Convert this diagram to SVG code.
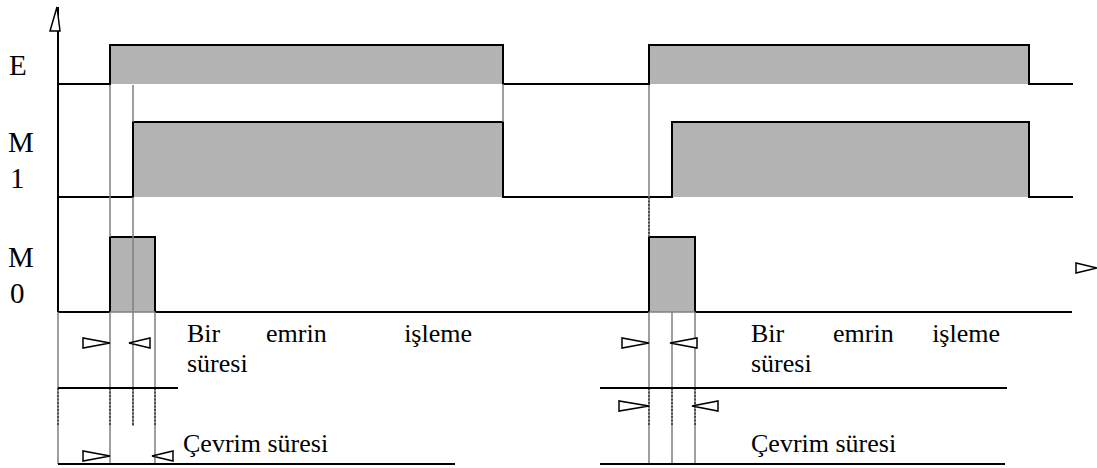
<svg xmlns="http://www.w3.org/2000/svg" width="1097" height="468" viewBox="0 0 1097 468">
<style>
.sig{fill:none;stroke:#000;stroke-width:2}
.fill{fill:#b3b3b3;stroke:none}
.g{stroke:#808080;stroke-width:1.5;fill:none}
.d{stroke:#333;stroke-width:1.5;stroke-dasharray:2 1.5;fill:none}
.ln{stroke:#000;stroke-width:2;fill:none}
.ar{fill:#fff;stroke:#000;stroke-width:1.5}
.t{font-family:"Liberation Serif","Times New Roman",serif;font-size:26px;fill:#000}
.lb{font-family:"Liberation Serif","Times New Roman",serif;font-size:29px;fill:#000}
</style>
<rect width="1097" height="468" fill="#fff"/>
<g id="labels">
<text class="lb" x="9" y="75">E</text>
<text class="lb" x="8" y="152">M</text>
<text class="lb" x="10" y="188">1</text>
<text class="lb" x="8" y="267">M</text>
<text class="lb" x="10" y="303">0</text>
</g>
<g id="signal-E">
<rect class="fill" x="110" y="45" width="393" height="39"/>
<rect class="fill" x="649" y="45" width="380" height="39"/>
<path class="sig" d="M58,84 H110 V45 H503 V84 H649 V45 H1029 V84 H1073"/>
</g>
<g id="signal-M1">
<rect class="fill" x="133" y="122" width="370" height="75"/>
<rect class="fill" x="672" y="122" width="357" height="75"/>
<path class="sig" d="M58,197 H133 V122 H503 V197 H672 V122 H1029 V197 H1073"/>
</g>
<g id="signal-M0">
<rect class="fill" x="110" y="237" width="45" height="75"/>
<rect class="fill" x="649" y="237" width="46" height="75"/>
<path class="sig" d="M110,312 V237 H155 V312"/>
<path class="sig" d="M649,312 V237 H695 V312"/>
<path class="sig" d="M58,312 H110 M155,312 H649 M695,312 H1072"/>
</g>
<g id="connectors">
<path class="g" d="M110,85 V237 M110,312 V464 M133,85 V122 M133,197 V426 M155,312 V464 M58,312 V464 M503,84 V122"/>
<path class="g" d="M649,85 V237 M649,312 V464 M672,312 V464 M695,312 V464 M110,312 H155 M649,312 H695"/>
<path class="d" d="M58,388 V426 M110,388 V426 M133,388 V426 M155,388 V426 M649,197 V237 M649,388 V426 M672,388 V426 M695,388 V426"/>
<path class="ln" d="M58,7 V312"/>
<path class="ln" d="M58,388 H178 M58,464 H455 M600,388 H1007 M600,464 H1005"/>
<polygon class="ar" points="50,31 60,31 57,7"/>
<polygon class="ar" points="83,338 83,348 110,343"/>
<polygon class="ar" points="150,338 150,348 129,343"/>
<polygon class="ar" points="83,451 83,461 110,456"/>
<polygon class="ar" points="173,451 173,461 152,456"/>
<polygon class="ar" points="622,338 622,348 649,343"/>
<polygon class="ar" points="697,338 697,348 670,343"/>
<polygon class="ar" points="619,401 619,411 649,406"/>
<polygon class="ar" points="718,401 718,411 692,406"/>
<polygon class="ar" points="1076,263 1076,273 1097,268"/>
</g>
<g id="texts">
<text class="t" x="187" y="342">Bir</text>
<text class="t" x="266" y="342">emrin</text>
<text class="t" x="472" y="342" text-anchor="end">işleme</text>
<text class="t" x="187" y="372">süresi</text>
<text class="t" x="183" y="452">Çevrim süresi</text>
<text class="t" x="751" y="342">Bir</text>
<text class="t" x="833" y="342">emrin</text>
<text class="t" x="1000" y="342" text-anchor="end">işleme</text>
<text class="t" x="751" y="372">süresi</text>
<text class="t" x="751" y="452">Çevrim süresi</text>
</g>
</svg>
